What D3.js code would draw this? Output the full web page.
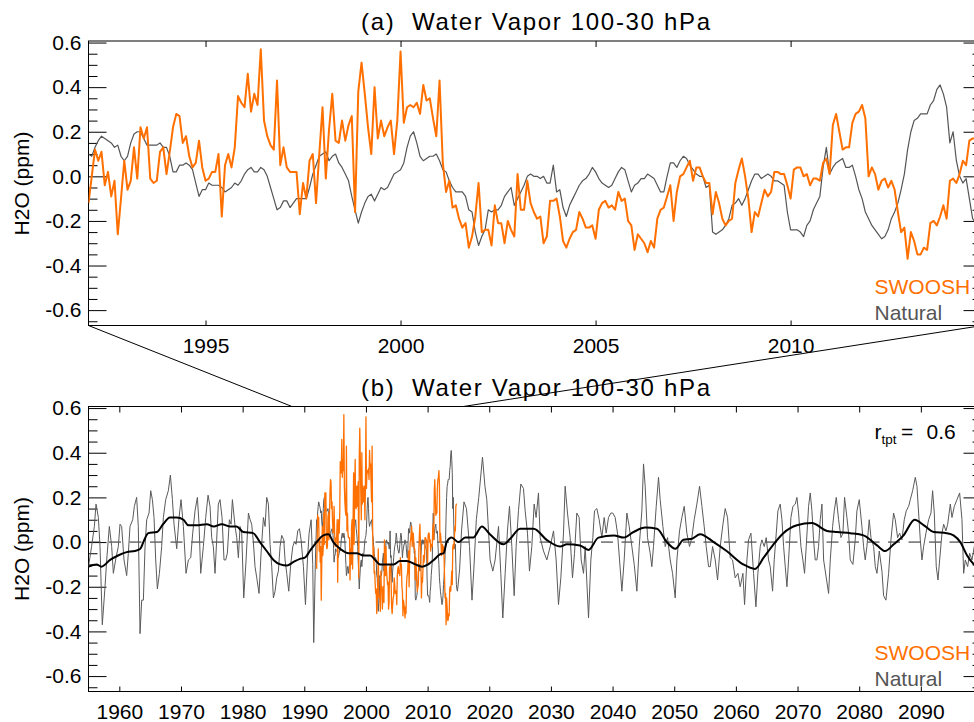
<!DOCTYPE html>
<html><head><meta charset="utf-8">
<script src="https://cdn.jsdelivr.net/npm/d3@7"></script>
<style>
body{margin:0;background:#fff}
svg text{font-family:"Liberation Sans",Arial,Helvetica,sans-serif}
</style></head>
<body><svg id="chart" width="974" height="722"></svg>
<script>
// ---------------- DATA ----------------
const yTickValues = [-0.6,-0.4,-0.2,0.0,0.2,0.4,0.6];
const yTickLabels = ["-0.6","-0.4","-0.2","0.0","0.2","0.4","0.6"];
const xTicksTop = [1995,2000,2005,2010];
const xTicksBottom = [1960,1970,1980,1990,2000,2010,2020,2030,2040,2050,2060,2070,2080,2090];
const titles = ["(a)  Water Vapor 100-30 hPa","(b)  Water Vapor 100-30 hPa"];
const legendNames = ["SWOOSH","Natural"];
const rtptValue = "0.6";
const zoomLinkYears = [1988.0, 2015.8];

// monthly series starting Jan 1992
const monthlyStart = 1992.0;
const swoosh = [
-0.12,0.00,0.12,0.07,0.11,-0.04,0.02,-0.09,-0.02,-0.26,
-0.10,0.07,-0.06,-0.02,0.13,-0.01,0.22,0.17,0.22,-0.01,
-0.03,-0.02,0.11,0.13,0.01,0.11,0.22,0.28,0.27,0.15,
0.18,0.09,0.04,0.06,0.16,0.04,-0.02,-0.01,0.02,0.02,
0.10,-0.18,0.05,0.10,0.04,0.13,0.36,0.33,0.31,0.46,
0.29,0.37,0.32,0.57,0.25,0.18,0.14,0.12,0.43,0.05,
0.13,0.04,0.02,0.02,0.02,-0.17,-0.03,-0.10,0.07,0.10,
-0.12,0.10,0.31,-0.01,0.21,0.37,0.16,0.15,0.25,0.16,
0.23,0.27,-0.16,0.38,0.51,0.37,0.22,0.10,0.40,0.17,
0.25,0.18,0.22,0.25,0.10,0.25,0.56,0.24,0.31,0.32,
0.31,0.33,0.28,0.41,0.34,0.35,0.26,0.18,0.43,0.06,
-0.07,-0.02,-0.14,-0.13,-0.19,-0.23,-0.21,-0.32,-0.27,-0.18,
-0.03,-0.25,-0.24,-0.24,-0.31,-0.13,-0.21,-0.21,-0.30,-0.20,
-0.24,-0.27,0.01,-0.15,-0.15,-0.02,-0.12,-0.16,-0.19,-0.18,
-0.30,-0.27,-0.11,-0.11,-0.10,-0.18,-0.29,-0.32,-0.28,-0.25,
-0.24,-0.16,-0.19,-0.23,-0.23,-0.22,-0.28,-0.15,-0.12,-0.11,
-0.14,-0.13,-0.15,-0.07,-0.11,-0.10,-0.20,-0.22,-0.33,-0.26,
-0.28,-0.30,-0.34,-0.29,-0.32,-0.19,-0.15,-0.14,-0.09,-0.04,
-0.20,-0.07,0.00,0.01,0.04,0.07,-0.02,0.04,0.04,0.00,
-0.03,-0.03,-0.17,-0.07,-0.12,-0.19,-0.22,-0.20,-0.19,-0.03,
0.03,0.08,0.00,-0.10,-0.25,-0.16,-0.18,-0.12,-0.06,-0.09,
-0.07,0.02,0.02,0.01,0.01,-0.04,-0.10,0.03,0.04,0.04,
0.00,0.01,-0.04,-0.01,-0.01,-0.02,0.06,0.08,0.01,0.23,
0.28,0.20,0.12,0.13,0.13,0.24,0.28,0.29,0.32,0.26,
0.00,0.04,0.01,-0.06,-0.02,-0.01,-0.05,-0.02,-0.06,-0.16,
-0.25,-0.23,-0.37,-0.25,-0.29,-0.35,-0.35,-0.32,-0.33,-0.21,
-0.20,-0.22,-0.18,-0.13,-0.19,-0.02,-0.01,-0.03,0.01,0.07,
0.05,0.16,0.17,0.17];

const naturalMonthly = [
0.10,0.09,0.13,0.16,0.18,0.17,0.16,0.15,0.13,0.14,
0.09,0.07,0.09,0.15,0.19,0.20,0.20,0.17,0.14,0.14,
0.14,0.14,0.15,0.13,0.13,0.09,0.02,0.02,0.05,0.05,
0.06,0.05,0.03,-0.03,-0.09,-0.06,-0.06,-0.03,-0.04,-0.04,
-0.04,-0.05,-0.07,-0.06,-0.05,-0.03,-0.04,-0.02,0.01,0.03,
0.04,0.02,0.02,0.04,0.03,0.00,-0.05,-0.10,-0.15,-0.14,
-0.11,-0.11,-0.14,-0.12,-0.10,-0.10,-0.10,-0.10,-0.05,0.01,
0.05,0.09,0.10,0.11,0.07,0.09,0.10,0.06,0.04,0.01,
-0.02,-0.09,-0.15,-0.21,-0.16,-0.12,-0.09,-0.08,-0.11,-0.08,
-0.05,-0.06,-0.05,-0.02,0.01,0.02,0.03,0.06,0.13,0.18,
0.20,0.15,0.09,0.07,0.08,0.09,0.09,0.10,0.07,0.03,
0.02,-0.02,-0.05,-0.07,-0.07,-0.07,-0.09,-0.15,-0.16,-0.25,
-0.31,-0.27,-0.24,-0.15,-0.16,-0.15,-0.15,-0.13,-0.09,-0.07,
-0.05,-0.13,-0.10,-0.07,-0.04,0.00,0.01,0.00,0.00,-0.01,
0.00,-0.03,-0.03,0.05,-0.07,-0.06,-0.14,-0.18,-0.13,-0.10,
-0.07,-0.04,-0.02,-0.01,0.01,0.04,0.02,-0.01,-0.03,-0.04,
-0.05,-0.04,-0.01,0.02,0.04,0.03,-0.02,-0.07,-0.04,-0.03,
-0.01,-0.01,0.01,0.00,-0.01,-0.04,-0.07,-0.07,0.00,0.06,
0.06,0.04,0.07,0.09,0.08,0.05,0.03,0.01,0.00,0.00,
-0.05,-0.04,-0.25,-0.26,-0.25,-0.24,-0.22,-0.19,-0.13,-0.12,
-0.10,-0.13,-0.10,-0.06,-0.02,0.01,0.01,-0.01,0.00,0.01,
0.00,-0.02,-0.02,-0.03,-0.04,-0.16,-0.24,-0.24,-0.24,-0.25,
-0.27,-0.22,-0.20,-0.15,-0.12,-0.09,0.04,0.13,0.01,0.04,
0.06,0.07,0.08,0.04,0.04,0.05,0.00,-0.06,-0.10,-0.16,
-0.19,-0.22,-0.24,-0.26,-0.28,-0.27,-0.24,-0.19,-0.16,-0.12,
-0.06,0.01,0.12,0.20,0.25,0.26,0.28,0.28,0.28,0.32,
0.34,0.39,0.41,0.37,0.31,0.15,0.20,0.07,0.00,-0.03,
-0.01,-0.10,-0.19,-0.21,-0.22,-0.20];

// Natural run before 1992 (times)
const natEarlyYears = [1955.0,1955.5,1955.95,1956.22,1956.6,1956.87,1957.24,1957.68,1957.95,1958.38,
1958.76,1959.03,1959.46,1959.84,1960.11,1960.38,1960.76,1961.19,1961.46,1961.73,
1962.17,1962.44,1962.81,1963.08,1963.36,1963.63,1963.9,1964.17,1964.44,1964.82,
1965.09,1965.36,1965.63,1965.9,1966.17,1966.5,1966.87,1967.14,1967.52,1967.95,
1968.28,1968.61,1968.87,1969.31,1969.69,1970.01,1970.39,1970.82,1971.2,1971.58,
1971.9,1972.28,1972.66,1972.93,1973.2,1973.63,1974.01,1974.39,1974.71,1974.98,
1975.25,1975.52,1975.79,1976.06,1976.33,1976.66,1976.98,1977.25,1977.52,1977.85,
1978.12,1978.34,1978.77,1979.04,1979.31,1979.58,1979.85,1980.18,1980.56,1980.94,
1981.21,1981.47,1981.74,1982.01,1982.29,1982.66,1982.99,1983.37,1983.64,1983.91,
1984.18,1984.45,1984.72,1984.99,1985.26,1985.53,1985.8,1986.07,1986.34,1986.67,
1986.88,1987.15,1987.48,1987.8,1988.13,1988.4,1988.67,1988.94,1989.21,1989.48,
1989.86,1990.19,1990.51,1990.78,1991.11,1991.37,1991.53,1991.8];
const natEarlyValues = [-0.11,-0.02,0.07,0.17,0.11,-0.02,-0.37,-0.20,-0.08,0.07,
-0.02,-0.14,-0.07,-0.02,0.08,0.07,-0.08,-0.15,-0.05,0.07,
0.10,0.16,0.20,0.07,-0.41,-0.26,-0.26,-0.02,0.10,0.13,
0.23,0.19,0.11,-0.08,-0.21,-0.14,-0.02,0.11,0.19,0.23,
0.30,0.19,0.08,-0.03,0.11,0.19,0.07,-0.14,-0.08,-0.07,
0.04,0.14,0.20,0.08,-0.14,-0.02,0.11,0.21,0.16,0.02,
-0.02,-0.14,0.01,0.17,0.19,0.11,-0.08,-0.08,-0.05,0.10,
0.08,0.19,0.07,0.02,-0.07,0.07,0.04,-0.25,-0.08,0.13,
0.10,0.08,0.00,-0.11,-0.16,-0.23,-0.05,0.11,0.07,0.20,
0.17,-0.01,-0.11,-0.25,-0.22,-0.16,-0.13,-0.02,0.03,0.01,
-0.08,-0.14,-0.22,-0.10,-0.02,0.00,-0.01,0.05,0.06,0.01,
-0.11,-0.28,-0.08,0.04,0.10,-0.10,-0.45,-0.08];

// Natural run after 2015
const natLateYears = [2015.2,2015.5,2015.9,2016.3,2016.8,2017.2,2017.5,2017.9,2018.3,2018.9,
2019.3,2019.6,2020.14,2020.58,2020.95,2021.5,2021.87,2022.2,2022.58,2022.95,
2023.28,2023.66,2024.04,2024.36,2024.74,2025.12,2025.55,2025.82,2026.2,2026.52,
2026.9,2027.28,2027.6,2027.98,2028.26,2028.8,2029.34,2029.88,2030.42,2030.85,
2031.23,2031.61,2032.04,2032.31,2032.69,2033.12,2033.5,2033.83,2034.2,2034.58,
2034.91,2035.29,2035.56,2036.1,2036.48,2036.8,2037.07,2037.45,2037.83,2038.26,
2038.64,2038.96,2039.34,2039.72,2040.04,2040.42,2040.8,2041.13,2041.51,2041.88,
2042.32,2042.7,2043.13,2043.51,2043.94,2044.32,2044.75,2045.02,2045.29,2045.67,
2046.1,2046.37,2046.64,2047.08,2047.45,2047.72,2048.16,2048.54,2048.92,2049.35,
2049.73,2050.16,2050.43,2050.86,2051.24,2051.62,2052.05,2052.48,2052.86,2053.24,
2053.67,2054.11,2054.49,2054.86,2055.19,2055.57,2055.84,2056.22,2056.65,2057.03,
2057.46,2057.9,2058.27,2058.65,2059.08,2059.46,2059.89,2060.33,2060.7,2061.14,
2061.41,2061.79,2062.06,2062.44,2062.87,2063.25,2063.57,2063.95,2064.22,2064.6,
2064.92,2065.3,2065.57,2065.95,2066.22,2066.55,2066.82,2067.19,2067.47,2067.74,
2068.01,2068.28,2068.55,2068.93,2069.25,2069.63,2069.9,2070.17,2070.55,2070.87,
2071.14,2071.41,2071.79,2072.06,2072.33,2072.6,2072.87,2073.14,2073.41,2073.68,
2073.96,2074.23,2075.04,2075.31,2075.69,2075.96,2076.28,2076.66,2077.04,2077.36,
2077.63,2078.01,2078.28,2078.55,2078.98,2079.36,2079.63,2080.01,2080.44,2080.71,
2080.98,2081.25,2081.63,2081.91,2082.34,2082.61,2082.88,2083.26,2083.69,2083.96,
2084.34,2084.77,2085.15,2085.58,2085.85,2086.23,2086.56,2086.93,2087.31,2087.64,
2088.02,2088.29,2088.67,2089.1,2089.37,2089.64,2089.91,2090.18,2090.45,2090.83,
2091.26,2091.64,2091.91,2092.18,2092.5,2092.78,2093.05,2093.43,2093.7,2094.07,
2094.35,2094.78,2095.05,2095.43,2095.86,2096.29,2096.67,2096.94,2097.21,2097.59,
2097.91,2098.29,2098.67,2099.0,2099.4,2099.8];
const natLateValues = [-0.12,0.05,0.18,0.15,-0.02,-0.26,-0.12,0.10,0.20,0.38,
0.25,0.19,-0.08,-0.13,-0.08,0.07,-0.14,-0.34,-0.14,0.05,
0.16,-0.02,-0.24,-0.02,0.14,0.26,0.24,0.14,0.04,-0.13,
-0.02,0.17,0.11,0.22,0.02,-0.04,-0.08,-0.02,0.05,-0.08,
-0.28,-0.16,0.04,0.25,0.13,0.02,-0.16,-0.05,0.13,0.11,
-0.08,-0.14,-0.02,-0.34,-0.08,0.02,0.14,0.15,0.10,0.02,
0.11,0.04,0.11,0.13,0.13,0.11,0.04,-0.08,-0.22,-0.08,
0.13,0.07,-0.02,-0.10,-0.22,-0.02,0.14,0.35,0.25,0.02,
-0.05,-0.11,-0.02,0.16,0.29,0.19,0.07,-0.02,0.02,-0.08,
-0.14,-0.25,-0.08,0.05,0.11,0.16,0.04,-0.02,0.02,0.10,
0.17,0.25,0.16,0.07,-0.02,-0.11,-0.11,-0.02,-0.08,-0.17,
-0.02,0.08,0.15,0.11,-0.07,-0.08,-0.16,-0.14,-0.20,-0.14,
-0.28,-0.08,0.01,0.04,-0.14,-0.29,-0.14,-0.02,0.01,-0.02,
0.02,-0.08,-0.11,-0.22,-0.08,0.04,0.14,0.17,0.10,-0.02,
-0.11,-0.20,-0.08,0.11,0.16,0.17,0.20,0.13,-0.02,-0.08,
-0.14,-0.02,0.16,0.22,0.14,0.01,-0.08,-0.08,-0.02,0.10,
0.17,-0.08,-0.23,-0.08,0.07,0.14,0.20,0.10,0.02,0.04,
0.20,0.11,0.04,-0.08,-0.10,0.01,0.14,0.19,0.07,-0.02,
-0.08,-0.02,0.10,0.02,-0.02,-0.11,-0.14,-0.04,-0.13,-0.24,
-0.26,-0.14,0.01,0.13,0.10,0.02,0.04,0.01,0.10,0.14,
0.16,0.19,0.23,0.29,0.25,0.13,0.01,-0.08,-0.02,0.04,
0.10,0.13,0.23,0.13,-0.11,-0.17,-0.08,0.04,0.08,0.05,
0.08,0.17,0.11,0.16,0.19,0.22,0.10,-0.14,-0.08,-0.11,
-0.05,-0.08,-0.02,-0.15,-0.18,-0.20];

// smoothed natural (black line)
const smoothYears = [1955.0,1956.3,1957.1,1958.5,1959.8,1961.2,1962.5,1963.4,1963.9,1964.7,
1966.1,1967.1,1968.2,1969.3,1970.4,1971.2,1972.5,1974.2,1975.3,1976.6,
1978.0,1979.0,1980.1,1981.7,1982.8,1983.9,1985.0,1986.1,1987.2,1988.2,
1989.3,1990.1,1990.9,1992.0,1993.1,1993.9,1994.7,1995.8,1997.2,1998.5,
1999.6,2000.7,2001.5,2002.3,2003.4,2004.5,2005.5,2006.6,2008.0,2009.1,
2010.1,2011.0,2012.0,2012.6,2013.1,2013.9,2015.0,2016.1,2017.4,2018.8,
2020.1,2022.3,2023.4,2025.0,2026.1,2027.2,2029.3,2031.5,2032.6,2034.7,
2036.1,2037.7,2040.2,2041.8,2043.4,2045.3,2047.2,2048.8,2050.2,2051.5,
2052.9,2054.2,2056.4,2058.5,2061.2,2063.1,2064.5,2066.1,2067.7,2069.9,
2072.3,2074.8,2076.4,2078.6,2080.7,2082.9,2084.2,2085.6,2087.2,2089.0,
2090.5,2092.1,2094.2,2095.3,2096.4,2097.5,2098.6,2099.6];
const smoothValues = [-0.11,-0.10,-0.11,-0.08,-0.06,-0.045,-0.04,-0.03,0.0,0.04,
0.045,0.08,0.11,0.11,0.10,0.075,0.075,0.08,0.07,0.08,
0.07,0.07,0.045,0.04,0.0,-0.04,-0.08,-0.10,-0.105,-0.09,
-0.075,-0.07,-0.04,0.0,0.03,0.035,0.0,-0.03,-0.05,-0.05,
-0.06,-0.06,-0.08,-0.10,-0.10,-0.10,-0.085,-0.085,-0.10,-0.11,
-0.10,-0.08,-0.055,-0.05,0.0,0.02,0.0,0.02,0.02,0.07,
0.035,-0.01,0.015,0.06,0.06,0.06,0.01,-0.02,-0.01,-0.015,
-0.035,0.02,0.03,0.02,0.045,0.065,0.06,0.0,-0.03,0.01,
0.015,0.035,0.0,-0.04,-0.10,-0.12,-0.07,-0.01,0.04,0.075,
0.085,0.05,0.045,0.04,0.03,-0.015,-0.04,-0.01,0.03,0.10,
0.075,0.045,0.04,0.03,0.0,-0.06,-0.10,-0.12];

// ---------------- DRAWING ----------------
const ORANGE = "#ff7000", GRAY = "#555555";
const L = 88.5, R = 982.5;
const yDomain = [-0.669, 0.607];
const xTop = d3.scaleLinear().domain([1992, 2014.92]).range([L, R]);
const xBot = d3.scaleLinear().domain([1955, 2100]).range([L, R]);
const yTop = d3.scaleLinear().domain(yDomain).range([325.5, 41]);
const yBot = d3.scaleLinear().domain(yDomain).range([691.5, 406.5]);

const svg = d3.select("#chart");
svg.append("rect").attr("width",974).attr("height",722).attr("fill","#fff");

const swooshPts = swoosh.map((v,i)=>[monthlyStart + i/12, v]);
const natMonthlyPts = naturalMonthly.map((v,i)=>[monthlyStart + i/12, v]);
const natEarlyPts = natEarlyYears.map((t,i)=>[t, natEarlyValues[i]]);
const natLatePts = natLateYears.map((t,i)=>[t, natLateValues[i]]);
const natAllPts = natEarlyPts.concat(natMonthlyPts, natLatePts);
const smoothPts = smoothYears.map((t,i)=>[t, smoothValues[i]]);

const minorTicks = d3.range(-13, 13).map(k => k*0.05).filter(v => Math.abs(Math.round(v*10)/10*5 - Math.round(v*50)/10*5) > 1e-9 || Math.abs(v*5 - Math.round(v*5)) > 1e-6)
  .filter(v => Math.abs(v*5 - Math.round(v*5)) > 1e-6 && v >= yDomain[0] && v <= yDomain[1]);

function panel(id, x, y, xTicks, title, titleY, labelY, legendY) {
  const [yb, yt] = y.range();
  svg.append("clipPath").attr("id", "clip"+id).append("rect")
    .attr("x", L).attr("y", yt).attr("width", R-L).attr("height", yb-yt);

  // title
  svg.append("text").attr("x", 535.5).attr("y", titleY).attr("text-anchor","middle")
    .attr("font-size", 24).attr("fill","#000").style("white-space","pre")
    .attr("textLength", 349).attr("lengthAdjust","spacing").text(title);

  // y label
  svg.append("text").attr("transform", `translate(28.5,${labelY}) rotate(-90)`)
    .attr("text-anchor","middle").attr("font-size",21).attr("fill","#000").text("H2O (ppm)");

  // left axis
  const gl = svg.append("g").attr("transform", `translate(${L},0)`)
    .call(d3.axisLeft(y).tickValues(yTickValues).tickSize(-18).tickPadding(7)
      .tickFormat((d,i)=>yTickLabels[i]));
  gl.select(".domain").remove();
  gl.selectAll("text").attr("font-size",21).attr("font-family",null).attr("fill","#000");
  gl.selectAll("line").attr("stroke","#000");
  const glm = svg.append("g").attr("transform", `translate(${L},0)`)
    .call(d3.axisLeft(y).tickValues(minorTicks).tickSize(-9).tickFormat(""));
  glm.select(".domain").remove();

  // right axis
  const gr = svg.append("g").attr("transform", `translate(${R},0)`)
    .call(d3.axisRight(y).tickValues(yTickValues).tickSize(-19).tickFormat(""));
  gr.select(".domain").remove();
  const grm = svg.append("g").attr("transform", `translate(${R},0)`)
    .call(d3.axisRight(y).tickValues(minorTicks).tickSize(-10).tickFormat(""));
  grm.select(".domain").remove();

  // bottom axis
  const gb = svg.append("g").attr("transform", `translate(0,${yb})`)
    .call(d3.axisBottom(x).tickValues(xTicks).tickSize(-5).tickPadding(13).tickFormat(d3.format("d")));
  gb.select(".domain").remove();
  gb.selectAll("text").attr("font-size",21).attr("font-family",null).attr("fill","#000");
  // top axis
  const gt = svg.append("g").attr("transform", `translate(0,${yt})`)
    .call(d3.axisTop(x).tickValues(xTicks).tickSize(-6).tickFormat(""));
  gt.select(".domain").remove();

  // frame
  svg.append("rect").attr("x", L).attr("y", yt).attr("width", R-L).attr("height", yb-yt)
    .attr("fill","none").attr("stroke","#000").attr("stroke-width",1);

  // legend
  svg.append("text").attr("x",874.5).attr("y",legendY[0]).attr("font-size",21)
    .attr("fill",ORANGE).text(legendNames[0]);
  svg.append("text").attr("x",874.5).attr("y",legendY[1]).attr("font-size",21)
    .attr("fill",GRAY).text(legendNames[1]);

  return svg.append("g").attr("clip-path", `url(#clip${id})`);
}

// ---- panel (a)
const gA = panel("A", xTop, yTop, xTicksTop, titles[0], 29.5, 183.5, [293.5, 319.5]);
const lineA = d3.line().x(d=>xTop(d[0])).y(d=>yTop(d[1]));
gA.append("path").datum(natMonthlyPts).attr("d", lineA).attr("fill","none")
  .attr("stroke", GRAY).attr("stroke-width",1.2).attr("stroke-linejoin","round");
gA.append("path").datum(swooshPts).attr("d", lineA).attr("fill","none")
  .attr("stroke", ORANGE).attr("stroke-width",2).attr("stroke-linejoin","round");

// ---- panel (b)
const gB = panel("B", xBot, yBot, xTicksBottom, titles[1], 395.5, 549, [659.5, 686]);
const lineB = d3.line().x(d=>xBot(d[0])).y(d=>yBot(d[1]));
gB.append("line").attr("x1",L).attr("x2",R).attr("y1",yBot(0)).attr("y2",yBot(0))
  .attr("stroke","#222").attr("stroke-width",1).attr("stroke-dasharray","12,8.5");
gB.append("path").datum(natAllPts).attr("d", lineB).attr("fill","none")
  .attr("stroke", "#5a5a5a").attr("stroke-width",1).attr("stroke-linejoin","round");
gB.append("path").datum(swooshPts).attr("d", lineB).attr("fill","none")
  .attr("stroke", ORANGE).attr("stroke-width",1.3).attr("stroke-linejoin","round");
gB.append("path").datum(smoothPts).attr("d", d3.line().curve(d3.curveMonotoneX).x(d=>xBot(d[0])).y(d=>yBot(d[1])))
  .attr("fill","none").attr("stroke","#000").attr("stroke-width",2);

// r_tpt annotation
const rt = svg.append("g").attr("fill","#000");
rt.append("text").attr("x",874.5).attr("y",439).attr("font-size",21).text("r");
rt.append("text").attr("x",881.5).attr("y",444).attr("font-size",13.5).text("tpt");
rt.append("text").attr("x",901).attr("y",439).attr("font-size",21).text("=");
rt.append("text").attr("x",926.5).attr("y",439).attr("font-size",21).text(rtptValue);

// zoom connector lines
svg.append("line").attr("x1",L).attr("y1",325.5).attr("x2",xBot(zoomLinkYears[0])).attr("y2",406.5)
  .attr("stroke","#000").attr("stroke-width",1);
svg.append("line").attr("x1",R).attr("y1",325.5).attr("x2",xBot(zoomLinkYears[1])).attr("y2",406.5)
  .attr("stroke","#000").attr("stroke-width",1);
</script>
</body></html>
